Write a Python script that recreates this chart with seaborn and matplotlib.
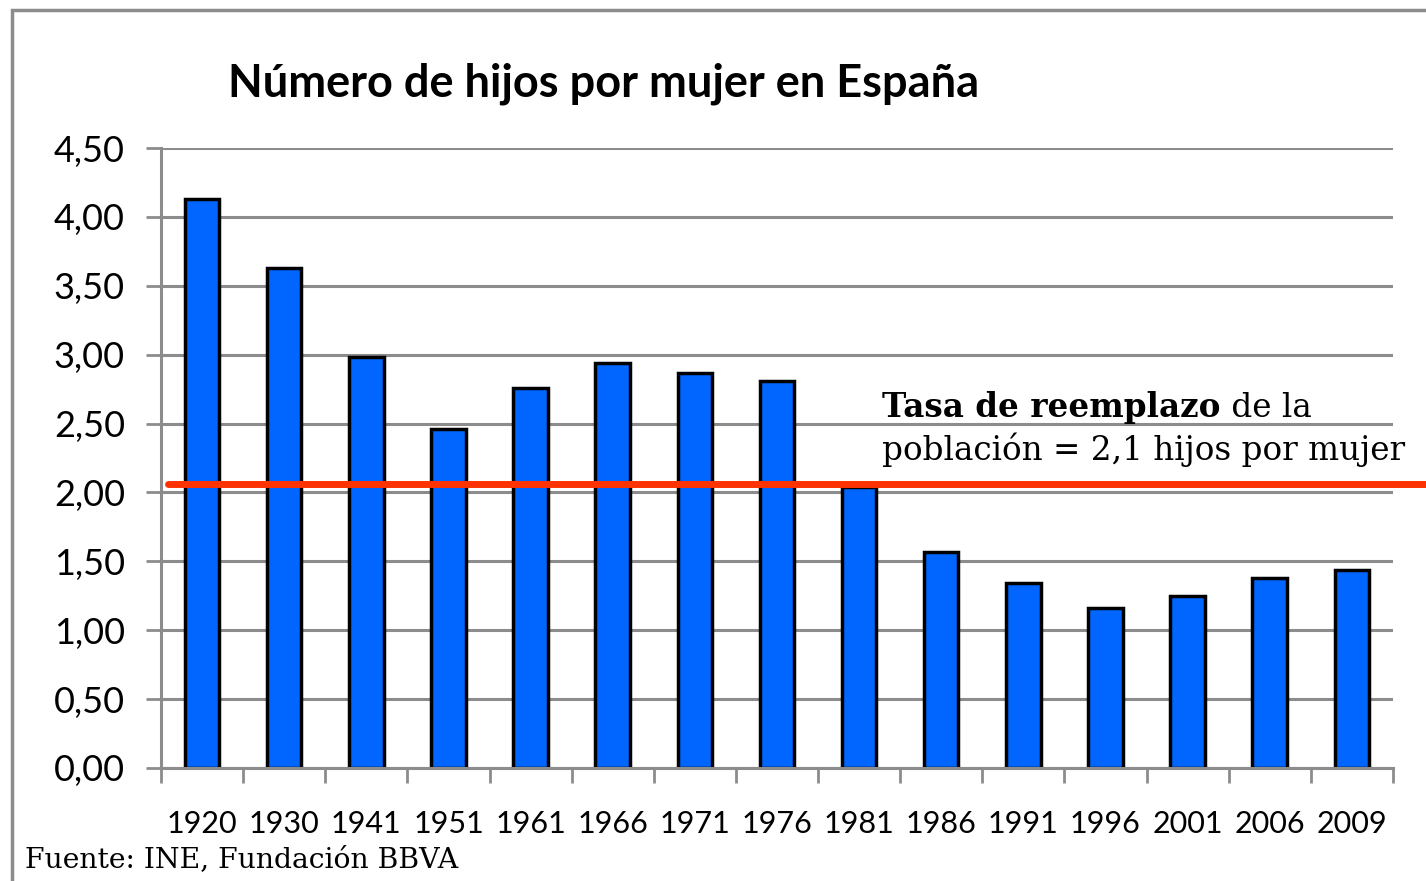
import numpy as np
import pandas as pd
import matplotlib
matplotlib.use('Agg')
import matplotlib.pyplot as plt
import seaborn as sns
from matplotlib.patches import Rectangle

# data
years = ['1920', '1930', '1941', '1951', '1961', '1966', '1971', '1976',
         '1981', '1986', '1991', '1996', '2001', '2006', '2009']
hijos = [4.13, 3.63, 2.98, 2.46, 2.76, 2.94, 2.87, 2.81,
         2.04, 1.57, 1.34, 1.16, 1.25, 1.38, 1.44]
reemplazo = 2.06
yticks = [0.0, 0.5, 1.0, 1.5, 2.0, 2.5, 3.0, 3.5, 4.0, 4.5]

df = pd.DataFrame({'year': years, 'hijos': hijos})

sns.set_style('white')
plt.rcParams['font.family'] = ['Lato', 'DejaVu Sans']
plt.rcParams['text.color'] = 'black'
plt.rcParams['xtick.color'] = 'black'
plt.rcParams['ytick.color'] = 'black'

fig = plt.figure(figsize=(14.26, 8.81), dpi=100)
ax = fig.add_axes([0.1129, 0.1283, 0.8639, 0.7037])

grey = '#8c8c8c'

# horizontal gridlines
for t in yticks:
    ax.axhline(t, color=grey, lw=2.2, zorder=0)

sns.barplot(data=df, x='year', y='hijos', color='#0066FF', saturation=1,
            edgecolor='black', linewidth=2.5, width=0.42, ax=ax, zorder=2)

ax.set_xlim(-0.5, len(years) - 0.5)
ax.set_ylim(0, 4.5)
ax.set_yticks(yticks)
ax.set_yticklabels([f'{t:.2f}'.replace('.', ',') for t in yticks], fontsize=26)
ax.tick_params(axis='y', length=11, width=2, color=grey, labelcolor='black', pad=15, left=True)
ax.set_xticks(range(len(years)))
ax.set_xticklabels(years, fontsize=22)
ax.tick_params(axis='x', which='major', length=0, pad=30, labelcolor='black')
ax.set_xticks(np.arange(-0.5, len(years)), minor=True)
ax.tick_params(axis='x', which='minor', length=11, width=2, color=grey, bottom=True)
ax.set_xlabel('')
ax.set_ylabel('')

for side in ['top', 'right']:
    ax.spines[side].set_visible(False)
for side in ['left', 'bottom']:
    ax.spines[side].set_color(grey)
    ax.spines[side].set_linewidth(2.2)

# replacement rate line, runs past the right edge
ax.axhline(reemplazo, xmin=0.006, xmax=1.03, color='#FF3300', lw=5, zorder=3, clip_on=False)

t1 = ax.text(0.5855, 0.581, 'Tasa de reemplazo', transform=ax.transAxes,
             fontsize=23.5, family='DejaVu Serif', fontweight='bold', va='center')
ax.text(0.5855, 0.513, 'población = 2,1 hijos por mujer', transform=ax.transAxes,
        fontsize=23.5, family='DejaVu Serif', va='center')
fig.canvas.draw()
bb = t1.get_window_extent().transformed(ax.transAxes.inverted())
ax.text(bb.x1, 0.581, ' de la', transform=ax.transAxes,
        fontsize=23.5, family='DejaVu Serif', va='center')

fig.text(0.16, 0.905, 'Número de hijos por mujer en España', fontsize=32.5,
         fontweight='bold', va='center', ha='left')
fig.text(0.0175, 0.024, 'Fuente: INE, Fundación BBVA', fontsize=20.3,
         family='DejaVu Serif', va='center', ha='left')

# outer frame (only left and top edges visible)
fig.patches.append(Rectangle((12 / 1426, -0.1), 1.2, 0.1 + 1 - 10 / 881,
                             transform=fig.transFigure, fill=False,
                             edgecolor=grey, lw=2.5, clip_on=False))

fig.savefig('out.png', dpi=100)
